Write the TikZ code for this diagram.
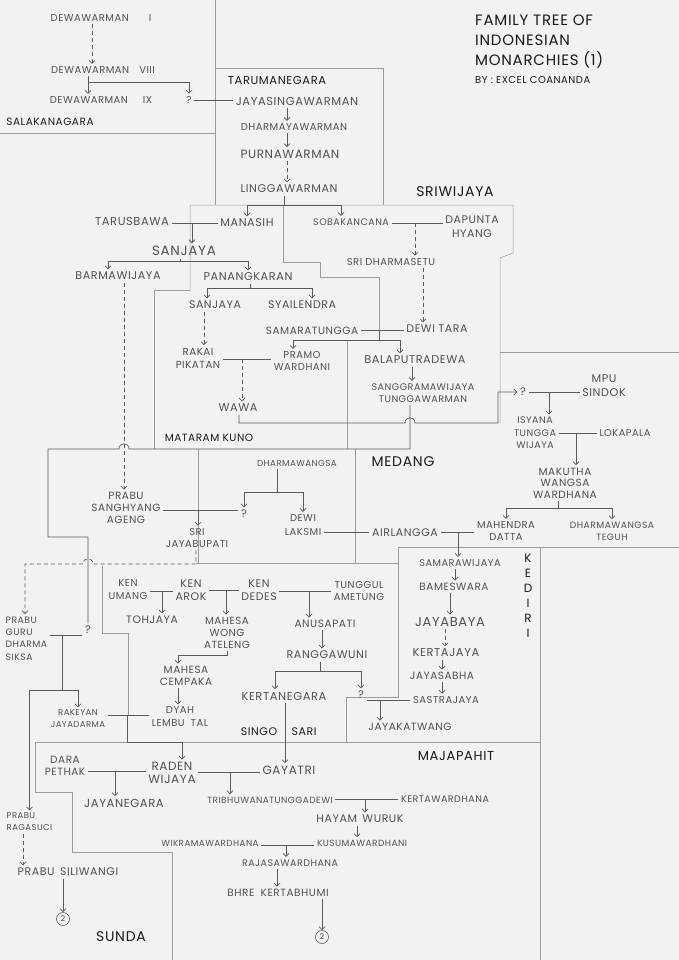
\documentclass[tikz,border=0pt]{standalone}
\usepackage{fontspec}
\setmainfont{Poppins}[LetterSpace=5]
\usetikzlibrary{arrows.meta}
\definecolor{ink}{HTML}{505050}
\definecolor{lnc}{HTML}{5A5A5A}
\definecolor{bnd}{HTML}{9C9C9C}
\definecolor{hd}{HTML}{1A1A1A}
\definecolor{paper}{HTML}{F2F2F2}
\begin{document}
\begin{tikzpicture}[x=1pt,y=-1pt,
  nm/.style 2 args={text=ink,inner sep=2.5pt,align=center,font=\fontsize{#1}{#2}\selectfont},
  hdg/.style 2 args={text=hd,inner sep=1pt,align=center,font=\fontsize{#1}{#2}\selectfont},
  ln/.style={draw=lnc,line width=0.7pt},
  arr/.style={ln,-{Straight Barb[length=3pt,width=6pt]}},
  darr/.style={arr,dash pattern=on 4pt off 3pt},
  bd/.style={draw=bnd,line width=0.5pt},
  circ/.style={circle,draw=lnc,line width=0.6pt,inner sep=0pt,minimum size=13pt,text=ink,font=\fontsize{8}{8}\selectfont}]
\fill[paper] (0,0) rectangle (679,960);
\useasboundingbox (0,0) rectangle (679,960);

% ---------- region boundaries ----------
\draw[bd] (215,0) -- (215,205);
\draw[bd] (0,133) -- (215,133);
\draw[bd] (215,68) -- (383,68) -- (383,205);
\draw[bd] (190,290) -- (190,205) -- (513,205) -- (513,253) -- (500,258) -- (500,423);
\draw[bd] (190,290) -- (154,290) -- (154,449);
\draw[bd] (283,205) -- (283,262) -- (320,262) -- (320,277) -- (379,277) -- (379,330);
\draw[bd] (347,340) -- (347,449);
\draw[bd] (500,352) -- (679,352);
\draw[bd] (198,449) -- (198,563);
\draw[bd] (355,449) -- (355,563);
\draw[bd] (196,563) -- (398,563);
\draw[bd] (398,547) -- (679,547);
\draw[bd] (398,547) -- (398,697) -- (346,697) -- (346,742);
\draw[bd] (540,547) -- (540,960);
\draw[bd] (102,566) -- (102,633) -- (128,633) -- (128,715);
\draw[bd] (35,742) -- (540,742);
\draw[bd] (35,742) -- (35,792) -- (72,792) -- (72,852) -- (172,852) -- (172,960);

% ---------- title ----------
\node[hdg={15}{15},anchor=west] (t1) at (474,20) {FAMILY TREE OF};
\node[hdg={15}{15},anchor=west] (t2) at (474,40) {INDONESIAN};
\node[hdg={15}{15},anchor=west] (t3) at (474,60) {MONARCHIES (1)};
\node[hdg={10}{10},anchor=west] (t4) at (474,80) {BY : EXCEL COANANDA};

% ---------- headings ----------
\node[hdg={10.5}{12}] (salak) at (50,122) {SALAKANAGARA};
\node[hdg={11.5}{12}] (taruma) at (277,80) {TARUMANEGARA};
\node[hdg={14}{14}] (sriw) at (455,192) {SRIWIJAYA};
\node[hdg={10.5}{12}] (matkuno) at (209,438) {MATARAM KUNO};
\node[hdg={14}{14}] (medang) at (403,462) {MEDANG};
\node[hdg={12}{15}] (kediri) at (528,595.5) {K\\E\\D\\I\\R\\I};
\node[hdg={11}{11}] (singo) at (259,732) {SINGO};
\node[hdg={11}{11}] (sari) at (304,732) {SARI};
\node[hdg={13}{13}] (majapahit) at (456,756) {MAJAPAHIT};
\node[hdg={14}{14}] (sunda) at (121,937) {SUNDA};

% ---------- names ----------
\node[nm={10}{12}] (dw1) at (101,18) {DEWAWARMAN\hspace{2em}I};
\node[nm={10}{12}] (dw8) at (103,70) {DEWAWARMAN\hspace{1em}VIII};
\node[nm={10}{12}] (dw9) at (101,100) {DEWAWARMAN\hspace{1.5em}IX};
\node[nm={10}{12}] (q1) at (189,100) {?};
\node[nm={11.5}{12}] (jayas) at (297,101) {JAYASINGAWARMAN};
\node[nm={10}{12}] (dharmay) at (294,127) {DHARMAYAWARMAN};
\node[nm={12}{12}] (purna) at (290,154) {PURNAWARMAN};
\node[nm={11.2}{12}] (lingga) at (289,189) {LINGGAWARMAN};
\node[nm={11.5}{12}] (tarus) at (132,221) {TARUSBAWA};
\node[nm={11.2}{12}] (manasih) at (247,223) {MANASIH};
\node[nm={9.5}{12}] (sobak) at (351,222) {SOBAKANCANA};
\node[nm={11}{14}] (dapunta) at (472,227) {DAPUNTA\\HYANG};
\node[nm={13.5}{14}] (sanjaya1) at (184,251) {SANJAYA};
\node[nm={11.2}{12}] (barma) at (118,276) {BARMAWIJAYA};
\node[nm={11.3}{12}] (panang) at (248,277) {PANANGKARAN};
\node[nm={10}{12}] (sdharma) at (391,262) {SRI DHARMASETU};
\node[nm={11}{12}] (sanjaya2) at (215,305) {SANJAYA};
\node[nm={11}{12}] (syail) at (302,305) {SYAILENDRA};
\node[nm={10.5}{12}] (samara) at (312,331) {SAMARATUNGGA};
\node[nm={11}{12}] (dewitara) at (437,329) {DEWI TARA};
\node[nm={10.3}{13}] (rakai) at (198,358) {RAKAI\\PIKATAN};
\node[nm={10}{12}] (pramo) at (302,361) {PRAMO\\WARDHANI};
\node[nm={11.3}{12}] (balap) at (415,360) {BALAPUTRADEWA};
\node[nm={9.6}{12}] (sangg) at (423,393) {SANGGRAMAWIJAYA\\TUNGGAWARMAN};
\node[nm={11.3}{12}] (wawa) at (238,408) {WAWA};
\node[nm={11}{12}] (q2) at (523,392) {?};
\node[nm={11.2}{14}] (mpu) at (604,386) {MPU\\SINDOK};
\node[nm={9.5}{12.5}] (isyana) at (535,433) {ISYANA\\TUNGGA\\WIJAYA};
\node[nm={9.8}{12}] (lokapala) at (625,433) {LOKAPALA};
\node[nm={10.5}{11.5}] (makutha) at (565,483) {MAKUTHA\\WANGSA\\WARDHANA};
\node[nm={10}{12}] (mahendra) at (506,531) {MAHENDRA\\DATTA};
\node[nm={9.2}{12}] (dteguh) at (612,531) {DHARMAWANGSA\\TEGUH};
\node[nm={11}{12}] (airlangga) at (405,533) {AIRLANGGA};
\node[nm={10}{14}] (dlaksmi) at (303,525) {DEWI\\LAKSMI};
\node[nm={8.7}{12}] (dharmawangsa) at (297,463) {DHARMAWANGSA};
\node[nm={11}{12}] (q3) at (244,514) {?};
\node[nm={10.5}{12}] (psa) at (126,508) {PRABU\\SANGHYANG\\AGENG};
\node[nm={10}{12}] (jayabupati) at (197,538) {SRI\\JAYABUPATI};
\node[nm={9.3}{12.3},align=left,anchor=west] (pgds) at (3,638.5) {PRABU\\GURU\\DHARMA\\SIKSA};
\node[nm={11}{12}] (q4) at (88,630) {?};
\node[nm={8.5}{12}] (rakeyan) at (78,719) {RAKEYAN\\JAYADARMA};
\node[nm={10}{13}] (dyah) at (180,717) {DYAH\\LEMBU\hspace{0.6em}TAL};
\node[nm={10}{13}] (kenumang) at (128,590) {KEN\\UMANG};
\node[nm={11}{13}] (kenarok) at (191,590) {KEN\\AROK};
\node[nm={11}{13}] (kendedes) at (259,590) {KEN\\DEDES};
\node[nm={10}{12}] (tunggul) at (359,591) {TUNGGUL\\AMETUNG};
\node[nm={10.8}{12}] (tohjaya) at (152,620) {TOHJAYA};
\node[nm={10.3}{12}] (mwa) at (227,633) {MAHESA\\WONG\\ATELENG};
\node[nm={10.6}{12}] (anusapati) at (325,624) {ANUSAPATI};
\node[nm={11.1}{12}] (rangga) at (327,655) {RANGGAWUNI};
\node[nm={11.5}{12}] (kerta) at (284,696) {KERTANEGARA};
\node[nm={11}{12}] (q5) at (361,695) {?};
\node[nm={10.5}{12}] (cempaka) at (186,676) {MAHESA\\CEMPAKA};
\node[nm={12}{12}] (gayatri) at (289,770) {GAYATRI};
\node[nm={12}{13}] (raden) at (172,773) {RADEN\\WIJAYA};
\node[nm={10.5}{12}] (dara) at (65,766) {DARA\\PETHAK};
\node[nm={11.6}{12}] (jayanegara) at (124,803) {JAYANEGARA};
\node[nm={9}{12}] (tribh) at (270,800) {TRIBHUWANATUNGGADEWI};
\node[nm={9.5}{12}] (kertaw) at (445,799) {KERTAWARDHANA};
\node[nm={11}{12}] (hayam) at (360,819) {HAYAM\hspace{0.5em}WURUK};
\node[nm={9}{12}] (kusuma) at (362,843) {KUSUMAWARDHANI};
\node[nm={8.8}{12}] (wikrama) at (210,843) {WIKRAMAWARDHANA};
\node[nm={9.5}{12}] (rajasa) at (290,863) {RAJASAWARDHANA};
\node[nm={10.5}{12}] (bhre) at (278,893) {BHRE\hspace{0.6em}KERTABHUMI};
\node[circ] (c2b) at (322,937) {2};
\node[nm={8.5}{12},align=left,anchor=west] (ragasuci) at (4,822) {PRABU\\RAGASUCI};
\node[nm={11}{12}] (siliwangi) at (68,872) {PRABU\hspace{0.5em}SILIWANGI};
\node[circ] (c2a) at (63,919) {2};
\node[nm={10.5}{12}] (jayakat) at (410,727) {JAYAKATWANG};
\node[nm={10}{12}] (sastra) at (446,700) {SASTRAJAYA};
\node[nm={9.8}{12}] (samaraw) at (460,563) {SAMARAWIJAYA};
\node[nm={10.5}{12}] (bameswara) at (454,587) {BAMESWARA};
\node[nm={13}{12}] (jayabaya) at (450,622) {JAYABAYA};
\node[nm={11.5}{12}] (kertajaya) at (446,653) {KERTAJAYA};
\node[nm={10.5}{12}] (jayasabha) at (442,676) {JAYASABHA};

% ---------- connectors: Salakanagara / Tarumanegara ----------
\coordinate (j1) at (92,45);
\draw[darr] (dw1.south -| j1) -- (dw8.north -| j1);
\coordinate (j2) at (88,82);
\draw[ln] (dw8.south -| j2) -- (j2);
\draw[arr] (j2) -- (dw9.north -| j2);
\draw[arr] (j2) -| (q1.north);
\draw[ln] (q1.east) -- (jayas.west |- q1.east);
\coordinate (j3) at (287,0);
\draw[arr] (jayas.south -| j3) -- (dharmay.north -| j3);
\draw[arr] (dharmay.south -| j3) -- (purna.north -| j3);
\draw[darr] (purna.south -| j3) -- (lingga.north -| j3);
\coordinate (j4) at (284,205);
\draw[ln] (lingga.south -| j4) -- (j4);
\draw[arr] (j4) -| (manasih.north);
\draw[arr] (j4) -| ([xshift=-10pt]sobak.north);

% ---------- Sanjaya / Sriwijaya ----------
\coordinate (j5) at (192,223);
\draw[ln] (tarus.east |- j5) -- (manasih.west |- j5);
\draw[arr,line width=1pt] (j5) -- (sanjaya1.north -| j5);
\coordinate (j6) at (415,223);
\draw[ln] (sobak.east |- j6) -- (dapunta.west |- j6);
\draw[darr] (j6) -- (sdharma.north -| j6);
\coordinate (j7) at (180,261);
\draw[ln] (sanjaya1.south -| j7) -- (j7);
\draw[arr] (j7) -| ([xshift=-10pt]barma.north);
\draw[arr] (j7) -| (panang.north);
\coordinate (j8) at (124,0);
\draw[darr] (barma.south -| j8) -- (psa.north -| j8);
\coordinate (j9) at (250,288);
\draw[ln] (panang.south -| j9) -- (j9);
\draw[arr] (j9) -| ([xshift=-8pt]sanjaya2.north);
\draw[arr] (j9) -| ([xshift=10pt]syail.north);
\coordinate (j10) at (204,0);
\draw[darr] (sanjaya2.south -| j10) -- (rakai.north -| j10);
\coordinate (j11) at (423,0);
\draw[darr] (sdharma.south -| j11) -- (dewitara.north -| j11);
\coordinate (j12) at (379,330);
\coordinate (j13) at (379,340);
\draw[ln] (samara.east |- j12) -- (dewitara.west |- j12);
\draw[ln] (j12) -- (j13);
\draw[arr] (j13) -| ([xshift=-9pt]pramo.north);
\draw[arr] (j13) -| ([xshift=-15pt]balap.north);
\coordinate (j14) at (242,359);
\draw[ln] (rakai.east |- j14) -- (pramo.west |- j14);
\draw[darr] (j14) -- (wawa.north -| j14);
\coordinate (j15) at (412,0);
\draw[arr] (balap.south -| j15) -- (sangg.north -| j15);

% Wawa -> ?
\coordinate (w1) at (239,423);
\coordinate (w2) at (498,423);
\coordinate (w3) at (498,392);
\draw[arr] (wawa.south -| w1) -- (w1) -- (405,423) .. controls (405,416) and (415,416) .. (415,423) -- (w2) -- (w3) -- (q2.west);
% Sanggramawijaya -> ?
\coordinate (s1) at (410,449);
\coordinate (s2) at (48,449);
\coordinate (s3) at (48,537);
\coordinate (s4) at (88,537);
\draw[ln] (sangg.south -| s1) -- (s1) -- (129,449) .. controls (129,442) and (119,442) .. (119,449) -- (s2) -- (s3) -- (s4) -- (q4.north -| s4);

% ---------- Medang ----------
\coordinate (j16) at (549,392);
\draw[ln] (q2.east |- j16) -- (mpu.west |- j16);
\draw[arr] (j16) -- (isyana.north -| j16);
\coordinate (j17) at (576,433);
\draw[ln] (isyana.east |- j17) -- (lokapala.west |- j17);
\draw[arr] (j17) -- (makutha.north -| j17);
\coordinate (j18) at (558,508);
\draw[ln] (makutha.south -| j18) -- (j18);
\draw[arr] (j18) -| (mahendra.north);
\draw[arr] (j18) -| (dteguh.north);
\coordinate (j19) at (458,532);
\draw[ln] (airlangga.east |- j19) -- (mahendra.west |- j19);
\draw[ln] (dlaksmi.east |- j19) -- (airlangga.west |- j19);
\draw[arr] (j19) -- (samaraw.north -| j19);
\coordinate (j20) at (277,492);
\draw[ln] (dharmawangsa.south -| j20) -- (j20);
\draw[arr] (j20) -| (q3.north);
\draw[arr] (j20) -| (dlaksmi.north);
\coordinate (j21) at (198,510);
\draw[ln] (psa.east |- j21) -- (q3.west |- j21);
\draw[arr] (j21) -- (jayabupati.north -| j21);

% ---------- Sunda ----------
\coordinate (d1) at (196,564);
\coordinate (d2) at (25,564);
\draw[darr] (jayabupati.south -| d1) -- (d1) -- (93,564) .. controls (93,557) and (83,557) .. (83,564) -- (d2) -- (pgds.north -| d2);
\coordinate (j22) at (62,635);
\draw[ln] (pgds.east |- j22) -- (q4.west |- j22);
\coordinate (j23) at (62,690);
\draw[ln] (j22) -- (j23);
\draw[arr] (j23) -| (rakeyan.north);
\draw[arr] (j23) -| (ragasuci.north);
\coordinate (j26) at (127,715);
\coordinate (j27) at (127,742);
\draw[ln] (rakeyan.east |- j26) -- (dyah.west |- j26);
\draw[arr] (j26) -- (j27) -| ([xshift=10pt]raden.north);
\coordinate (j44) at (23,0);
\draw[darr] (ragasuci.south -| j44) -- (siliwangi.north -| j44);
\coordinate (j45) at (63,0);
\draw[arr] (siliwangi.south -| j45) -- (c2a.north -| j45);

% ---------- Singosari ----------
\coordinate (j28) at (162,591);
\draw[ln] (kenumang.east |- j28) -- (kenarok.west |- j28);
\draw[arr] (j28) -- (tohjaya.north -| j28);
\coordinate (j29) at (226,590);
\draw[ln] (kenarok.east |- j29) -- (kendedes.west |- j29);
\draw[arr] (j29) -- (mwa.north -| j29);
\coordinate (j30) at (309,591);
\draw[ln] (kendedes.east |- j30) -- (tunggul.west |- j30);
\draw[arr] (j30) -- (anusapati.north -| j30);
\coordinate (j31) at (322,0);
\draw[arr] (anusapati.south -| j31) -- (rangga.north -| j31);
\coordinate (j32) at (320,671);
\draw[ln] (rangga.south -| j32) -- (j32);
\draw[arr] (j32) -| ([xshift=-9pt]kerta.north);
\draw[arr] (j32) -| (q5.north);
\coordinate (j33) at (227,655);
\draw[arr] (mwa.south -| j33) -- (j33) -| ([xshift=-8pt]cempaka.north);
\coordinate (j34) at (178,0);
\draw[arr] (cempaka.south -| j34) -- (dyah.north -| j34);
\coordinate (j35) at (380,700);
\draw[ln] (q5.east |- j35) -- (sastra.west |- j35);
\draw[arr] (j35) -- (jayakat.north -| j35);
\coordinate (j36) at (285,0);
\draw[arr] (kerta.south -| j36) -- (gayatri.north -| j36);

% ---------- Kediri ----------
\coordinate (k1) at (455,0);
\draw[arr] (samaraw.south -| k1) -- (bameswara.north -| k1);
\coordinate (k2) at (450,0);
\draw[arr] (bameswara.south -| k2) -- (jayabaya.north -| k2);
\coordinate (k3) at (445,0);
\draw[darr] (jayabaya.south -| k3) -- (kertajaya.north -| k3);
\coordinate (k4) at (442,0);
\draw[arr] (kertajaya.south -| k4) -- (jayasabha.north -| k4);
\draw[arr] (jayasabha.south -| k4) -- (sastra.north -| k4);

% ---------- Majapahit ----------
\coordinate (j37) at (115,771);
\draw[ln] (dara.east |- j37) -- (raden.west |- j37);
\draw[arr] (j37) -- (jayanegara.north -| j37);
\coordinate (j38) at (230,772);
\draw[ln] (raden.east |- j38) -- (gayatri.west |- j38);
\draw[arr] (j38) -- (tribh.north -| j38);
\coordinate (j39) at (365,799);
\draw[ln] (tribh.east |- j39) -- (kertaw.west |- j39);
\draw[arr] (j39) -- (hayam.north -| j39);
\coordinate (j40) at (357,0);
\draw[arr] (hayam.south -| j40) -- (kusuma.north -| j40);
\coordinate (j41) at (286,845);
\draw[ln] (wikrama.east |- j41) -- (kusuma.west |- j41);
\draw[arr] (j41) -- (rajasa.north -| j41);
\coordinate (j42) at (277,0);
\draw[arr] (rajasa.south -| j42) -- (bhre.north -| j42);
\coordinate (j43) at (322,0);
\draw[arr] (bhre.south -| j43) -- (c2b.north -| j43);
\end{tikzpicture}
\end{document}
